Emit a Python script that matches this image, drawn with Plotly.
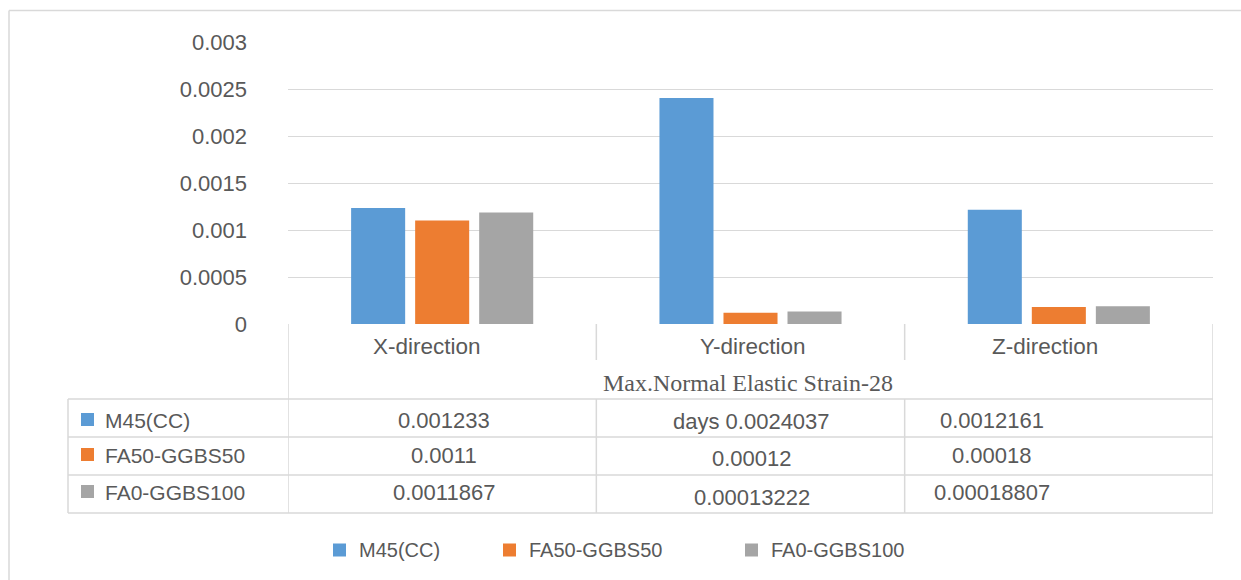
import plotly.graph_objects as go

# ---- data -------------------------------------------------------------
categories = ["X-direction", "Y-direction", "Z-direction"]
series_names = ["M45(CC)", "FA50-GGBS50", "FA0-GGBS100"]
m45_cc = [0.001233, 0.0024037, 0.0012161]
fa50_ggbs50 = [0.0011, 0.00012, 0.00018]
fa0_ggbs100 = [0.0011867, 0.00013222, 0.00018807]
table_title = "Max.Normal Elastic Strain-28"
y_tick_vals = [0, 0.0005, 0.001, 0.0015, 0.002, 0.0025, 0.003]
y_tick_text = ["0", "0.0005", "0.001", "0.0015", "0.002", "0.0025", "0.003"]

series_values = [m45_cc, fa50_ggbs50, fa0_ggbs100]
colors = ["#5B9BD5", "#ED7D31", "#A5A5A5"]

# ---- page geometry (pixels) -------------------------------------------
W, H = 1241, 580
PLOT_L, PLOT_R = 288, 1213
PLOT_T, PLOT_B = 42, 324
GRID = "#d9d9d9"
TEXT = "#595959"
SANS = "Liberation Sans, Arial, sans-serif"
SERIF = "Liberation Serif, Times New Roman, serif"


def fx(px):
    return px / W


def fy(py):
    return 1 - py / H


fig = go.Figure()
for name, vals, col in zip(series_names, series_values, colors):
    fig.add_trace(go.Bar(x=categories, y=vals, name=name,
                         marker=dict(color=col, line=dict(width=0))))

fig.update_layout(
    width=W, height=H,
    margin=dict(l=0, r=0, t=0, b=0, pad=0),
    paper_bgcolor="white", plot_bgcolor="white",
    showlegend=False,
    barmode="group", bargap=0.377, bargroupgap=0.156,
    font=dict(family=SANS, color=TEXT),
    xaxis=dict(domain=[fx(PLOT_L), fx(PLOT_R)], type="category",
               range=[-0.5, 2.5], showticklabels=False, showgrid=False,
               zeroline=False, showline=False, ticks="", automargin=False),
    yaxis=dict(domain=[fy(PLOT_B), fy(PLOT_T)], range=[0, 0.003],
               tickvals=y_tick_vals, ticktext=y_tick_text,
               tickfont=dict(size=22, color=TEXT, family=SANS),
               ticklabelstandoff=40, automargin=False,
               showgrid=True, gridcolor=GRID, gridwidth=1.2,
               zeroline=False, showline=False, ticks=""),
)

shapes = []
line = dict(color=GRID, width=1.5)

# outer chart frame
shapes.append(dict(type="line", xref="paper", yref="paper",
                   x0=fx(9), x1=1.0, y0=fy(10.5), y1=fy(10.5), line=line))
shapes.append(dict(type="line", xref="paper", yref="paper",
                   x0=fx(9), x1=fx(9), y0=0, y1=fy(10.5), line=line))

# data table grid
ROW_LINES = [399, 437, 475, 513]
for yy in ROW_LINES:
    shapes.append(dict(type="line", xref="paper", yref="paper",
                       x0=fx(68), x1=fx(PLOT_R), y0=fy(yy), y1=fy(yy),
                       line=line))
shapes.append(dict(type="line", xref="paper", yref="paper",
                   x0=fx(68), x1=fx(68), y0=fy(399), y1=fy(513), line=line))
for xb in (-0.5, 2.5):
    shapes.append(dict(type="line", xref="x", yref="paper",
                       x0=xb, x1=xb, y0=fy(PLOT_B), y1=fy(513), line=line))
for xb in (0.5, 1.5):
    shapes.append(dict(type="line", xref="x", yref="paper",
                       x0=xb, x1=xb, y0=fy(PLOT_B), y1=fy(360), line=line))
    shapes.append(dict(type="line", xref="x", yref="paper",
                       x0=xb, x1=xb, y0=fy(399), y1=fy(513), line=line))

annotations = []

# category header row
cat_shift = [-15, 2, -14]
for cat, sh in zip(categories, cat_shift):
    annotations.append(dict(x=cat, xref="x", y=fy(346), yref="paper",
                            text=cat, showarrow=False, xshift=sh,
                            xanchor="center", yanchor="middle",
                            font=dict(size=22.5, color=TEXT, family=SANS)))
annotations.append(dict(x=categories[1], xref="x", y=fy(383), yref="paper",
                        text=table_title, showarrow=False, xshift=-3,
                        xanchor="center", yanchor="middle",
                        font=dict(size=24, color=TEXT, family=SERIF)))

# value rows
row_text_y = [420, 455, 492]
col_shift_x = [2, 1, -67]
mid_col_drop = [1, 3, 5]   # middle column sits slightly lower in each row
for i, (name, vals, col) in enumerate(zip(series_names, series_values, colors)):
    yc = row_text_y[i]
    # series key in the first column
    shapes.append(dict(type="rect", xref="paper", yref="paper",
                       x0=fx(81), x1=fx(94), y0=fy(yc - 7), y1=fy(yc + 6),
                       fillcolor=col, line=dict(width=0)))
    annotations.append(dict(x=fx(103), xref="paper", y=fy(yc), yref="paper",
                            text=name, showarrow=False, xanchor="left",
                            yanchor="middle",
                            font=dict(size=21, color=TEXT, family=SANS)))
    for j, cat in enumerate(categories):
        txt = str(vals[j])
        if i == 0 and j == 1:
            # the word "days" of the title wraps into this cell
            txt = "days " + txt
        dy = mid_col_drop[i] if j == 1 else 0
        annotations.append(dict(x=cat, xref="x",
                                y=fy(yc + dy), yref="paper",
                                text=txt, showarrow=False,
                                xshift=col_shift_x[j],
                                xanchor="center", yanchor="middle",
                                font=dict(size=22, color=TEXT, family=SANS)))

# legend along the bottom
legend_x = [333, 503, 745]
LEG_Y = 550
for name, col, lx in zip(series_names, colors, legend_x):
    shapes.append(dict(type="rect", xref="paper", yref="paper",
                       x0=fx(lx), x1=fx(lx + 13), y0=fy(LEG_Y + 6.5),
                       y1=fy(LEG_Y - 6.5), fillcolor=col, line=dict(width=0)))
    annotations.append(dict(x=fx(lx + 24), xref="paper", y=fy(LEG_Y),
                            yref="paper", text=name, showarrow=False,
                            xanchor="left", yanchor="middle",
                            font=dict(size=20, color=TEXT, family=SANS)))

fig.update_layout(shapes=shapes, annotations=annotations)
fig.write_html("out.html")
